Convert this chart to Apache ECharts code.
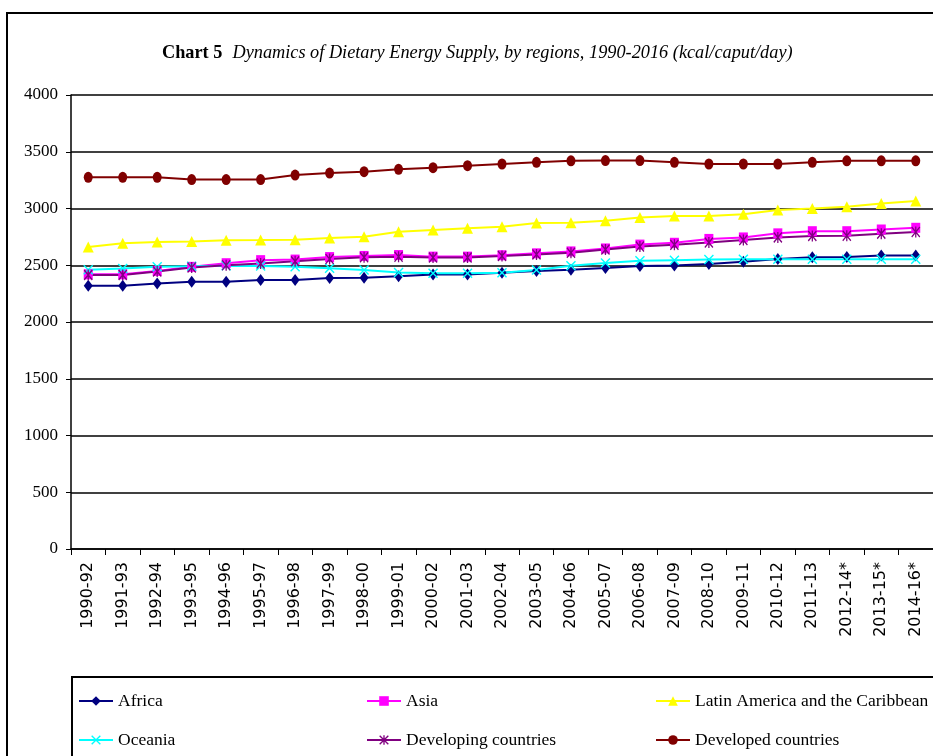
<!DOCTYPE html>
<html>
<head>
<meta charset="utf-8">
<script src="https://cdn.jsdelivr.net/npm/echarts@6/dist/echarts.min.js"></script>
<style>
  html, body { margin: 0; padding: 0; background: #fff; }
  #chart { width: 933px; height: 756px; }
</style>
</head>
<body>
<div id="chart"></div>
<script>
const periods = ['1990-92', '1991-93', '1992-94', '1993-95', '1994-96', '1995-97', '1996-98',
  '1997-99', '1998-00', '1999-01', '2000-02', '2001-03', '2002-04', '2003-05', '2004-06',
  '2005-07', '2006-08', '2007-09', '2008-10', '2009-11', '2010-12', '2011-13',
  '2012-14*', '2013-15*', '2014-16*'];

const africa = [2320, 2320, 2340, 2355, 2355, 2370, 2370, 2388, 2390, 2404, 2419, 2419, 2433,
  2450, 2460, 2475, 2493, 2498, 2512, 2530, 2555, 2570, 2572, 2585, 2587];
const asia = [2420, 2420, 2450, 2486, 2518, 2545, 2550, 2572, 2582, 2590, 2576, 2576, 2588,
  2605, 2622, 2648, 2682, 2698, 2732, 2745, 2781, 2800, 2800, 2815, 2830];
const latinAmerica = [2660, 2693, 2705, 2710, 2720, 2722, 2725, 2740, 2752, 2795, 2810, 2825,
  2840, 2872, 2874, 2892, 2920, 2934, 2935, 2950, 2987, 3000, 3016, 3045, 3066];
const oceania = [2460, 2472, 2486, 2492, 2495, 2493, 2487, 2473, 2458, 2436, 2429, 2429, 2434,
  2458, 2495, 2520, 2540, 2545, 2550, 2552, 2552, 2552, 2552, 2552, 2552];
const developing = [2415, 2415, 2445, 2480, 2500, 2515, 2535, 2555, 2570, 2575, 2568, 2568,
  2582, 2595, 2610, 2638, 2665, 2680, 2700, 2722, 2745, 2758, 2760, 2778, 2793];
const developed = [3275, 3275, 3275, 3255, 3255, 3255, 3295, 3312, 3324, 3345, 3360, 3377,
  3392, 3407, 3420, 3422, 3422, 3407, 3392, 3392, 3392, 3407, 3420, 3420, 3420];

const yTicks = [0, 500, 1000, 1500, 2000, 2500, 3000, 3500, 4000];

const serif = '"Liberation Serif", "Times New Roman", serif';
const xMark = 'path://M0,1 L1,0 L5,4 L9,0 L10,1 L6,5 L10,9 L9,10 L5,6 L1,10 L0,9 L4,5 Z';
const starMark = 'path://M0,1 L1,0 L5,4 L9,0 L10,1 L6,5 L10,9 L9,10 L5,6 L1,10 L0,9 L4,5 Z M4.3,0 L5.7,0 L5.7,10 L4.3,10 Z';

function mkSeries(name, data, color, symbol, size) {
  return {
    name: name,
    type: 'line',
    data: data,
    symbol: symbol,
    symbolSize: size,
    showAllSymbol: true,
    lineStyle: { color: color, width: 2 },
    itemStyle: { color: color, borderWidth: 0 },
    emphasis: { disabled: true }
  };
}

const chart = echarts.init(document.getElementById('chart'));

// one legend per entry so the 3x2 grid of the original can be placed exactly
function mkLegend(name, left, top) {
  return {
    left: left,
    top: top,
    padding: 0,
    itemWidth: 34,
    itemHeight: 12,
    itemGap: 6,
    textStyle: { color: '#000', fontFamily: serif, fontSize: 17.5 },
    data: [name]
  };
}

const option = {
  animation: false,
  backgroundColor: '#fff',
  title: {
    text: '{b|Chart 5}  {i|Dynamics of Dietary Energy Supply, by regions, 1990-2016 (kcal/caput/day)}',
    left: 157,
    top: 39,
    textStyle: {
      rich: {
        b: { fontFamily: serif, fontSize: 18.3, fontWeight: 'bold', color: '#000' },
        i: { fontFamily: serif, fontSize: 18.3, fontStyle: 'italic', fontWeight: 'normal', color: '#000' }
      }
    }
  },
  legend: [
    mkLegend('Africa', 78, 692),
    mkLegend('Asia', 366, 692),
    mkLegend('Latin America and the Caribbean', 655, 692),
    mkLegend('Oceania', 78, 731),
    mkLegend('Developing countries', 366, 731),
    mkLegend('Developed countries', 655, 731)
  ],
  grid: { left: 71, right: 0, top: 95, bottom: 207, containLabel: false },
  xAxis: {
    type: 'category',
    data: periods,
    boundaryGap: true,
    axisLine: { lineStyle: { color: '#000', width: 1.5 } },
    axisTick: { show: true, length: 6, lineStyle: { color: '#000', width: 1 } },
    axisLabel: {
      rotate: 90,
      margin: 13,
      interval: 0,
      color: '#000',
      fontFamily: '"DejaVu Sans", sans-serif',
      fontSize: 16
    }
  },
  yAxis: {
    type: 'value',
    min: yTicks[0],
    max: yTicks[yTicks.length - 1],
    interval: 500,
    axisLine: { show: true, lineStyle: { color: '#000', width: 1.5 } },
    axisTick: { show: true, length: 5, lineStyle: { color: '#000' } },
    splitLine: { lineStyle: { color: '#000', width: 1.5 } },
    axisLabel: {
      margin: 13,
      color: '#000',
      fontFamily: serif,
      fontSize: 17,
      formatter: (v) => String(v)
    }
  },
  graphic: [
    { type: 'line', shape: { x1: 6, y1: 13, x2: 933, y2: 13 }, style: { stroke: '#000', lineWidth: 2 } },
    { type: 'line', shape: { x1: 7, y1: 12, x2: 7, y2: 756 }, style: { stroke: '#000', lineWidth: 2 } },
    { type: 'rect', shape: { x: 72, y: 677, width: 900, height: 100 }, style: { fill: 'none', stroke: '#000', lineWidth: 2 }, z: -1 }
  ],
  series: [
    mkSeries('Africa', africa, '#000080', 'diamond', [9, 12]),
    mkSeries('Asia', asia, '#ff00ff', 'rect', [9, 10]),
    mkSeries('Latin America and the Caribbean', latinAmerica, '#ffff00', 'triangle', [11, 11]),
    mkSeries('Oceania', oceania, '#00ffff', xMark, [10, 10]),
    mkSeries('Developing countries', developing, '#800080', starMark, [9, 11]),
    mkSeries('Developed countries', developed, '#800000', 'circle', [9, 11])
  ]
};

chart.setOption(option);
</script>
</body>
</html>
